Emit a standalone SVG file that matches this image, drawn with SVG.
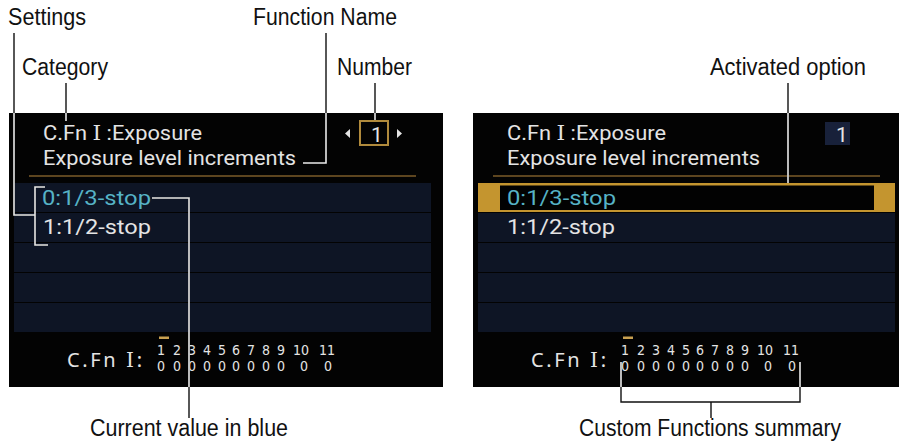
<svg xmlns="http://www.w3.org/2000/svg" xmlns:xlink="http://www.w3.org/1999/xlink" width="899" height="442" viewBox="0 0 899 442">
<style>
.lbl{font-family:"Liberation Sans","Arial",sans-serif;font-size:23px;fill:#111;}
.scr{fill:#030303;}
.row{fill:#0e1525;}
.hd{font-family:Roboto,"Noto Sans",sans-serif;font-size:21px;fill:#e4e4e4;}
.blue{fill:#56b3c6;}
.rn{font-family:"DejaVu Serif","Liberation Serif",serif;}
.ft{font-family:"Noto Sans","Open Sans",sans-serif;font-size:20px;fill:#e4e4e4;}
.dig{font-family:"DejaVu Sans","Liberation Sans",sans-serif;font-stretch:condensed;font-size:14px;fill:#e4e4e4;text-anchor:middle;}
.rule{stroke:#7c5c2a;stroke-width:1.5;}
.ln{fill:none;stroke:#111;stroke-width:1.4;}
.lnw{fill:none;stroke:#e8e8e8;stroke-width:1.6;}
.gold{fill:#c4952f;}
</style>
<defs>
<clipPath id="screens">
<rect x="9" y="113" width="434" height="274"/>
<rect x="473" y="113" width="426" height="274"/>
</clipPath>
<path id="c-settings" d="M14,33 V215 H35 M45,187 H35 V245 H48"/>
<path id="c-category" d="M66,83 V121"/>
<path id="c-fname" d="M326,33 V163 H303"/>
<path id="c-number" d="M375,83 V120"/>
<path id="c-current" d="M152,198 H189 V418"/>
<path id="c-activated" d="M788,83 V183"/>
<path id="c-summary" d="M621,362 V402 H800 V362 M711,402 V418"/>
</defs>

<g id="screen-left">
<rect class="scr" x="9" y="113" width="434" height="274"/>
<text class="hd" x="43" y="140" textLength="159" lengthAdjust="spacingAndGlyphs">C.Fn <tspan class="rn">I</tspan> :Exposure</text>
<text class="hd" x="43" y="165" textLength="253" lengthAdjust="spacingAndGlyphs">Exposure level increments</text>
<polygon points="350,129 345,133.5 350,138" fill="#e4e4e4"/>
<rect x="360" y="121" width="28" height="24" fill="none" stroke="#b08a3c" stroke-width="2"/>
<text class="hd" x="377" y="142" text-anchor="middle">1</text>
<polygon points="397,129 402,133.5 397,138" fill="#e4e4e4"/>
<line class="rule" x1="29" y1="176" x2="416" y2="176"/>
<rect class="row" x="14" y="183" width="417" height="29"/>
<rect class="row" x="14" y="213" width="417" height="29"/>
<rect class="row" x="14" y="243" width="417" height="29"/>
<rect class="row" x="14" y="273" width="417" height="29"/>
<rect class="row" x="14" y="303" width="417" height="29"/>
<text class="hd blue" x="42" y="205" textLength="109" lengthAdjust="spacingAndGlyphs">0:1/3-stop</text>
<text class="hd" x="43" y="234" textLength="108" lengthAdjust="spacingAndGlyphs">1:1/2-stop</text>
<rect x="159" y="336.5" width="10" height="2.5" fill="#c8a050"/>
<text class="ft" x="67" y="367" textLength="75" lengthAdjust="spacing">C.Fn <tspan class="rn">I</tspan>:</text>
<text class="dig" y="355"><tspan x="163">1</tspan> <tspan x="179">2</tspan> <tspan x="194">3</tspan> <tspan x="209">4</tspan> <tspan x="224">5</tspan> <tspan x="238">6</tspan> <tspan x="253">7</tspan> <tspan x="268">8</tspan> <tspan x="283">9</tspan> <tspan x="303">10</tspan> <tspan x="327">11</tspan></text>
<text class="dig" y="371"><tspan x="163">0</tspan> <tspan x="179">0</tspan> <tspan x="194">0</tspan> <tspan x="209">0</tspan> <tspan x="224">0</tspan> <tspan x="238">0</tspan> <tspan x="253">0</tspan> <tspan x="268">0</tspan> <tspan x="283">0</tspan> <tspan x="306">0</tspan> <tspan x="328">0</tspan></text>
</g>

<g id="screen-right">
<rect class="scr" x="473" y="113" width="426" height="274"/>
<text class="hd" x="507" y="140" textLength="159" lengthAdjust="spacingAndGlyphs">C.Fn <tspan class="rn">I</tspan> :Exposure</text>
<text class="hd" x="507" y="165" textLength="253" lengthAdjust="spacingAndGlyphs">Exposure level increments</text>
<rect x="825" y="122" width="25" height="23" fill="#18213a"/>
<text class="hd" x="842" y="142" text-anchor="middle">1</text>
<line class="rule" x1="493" y1="176" x2="880" y2="176"/>
<rect class="gold" x="478" y="183" width="417" height="29"/>
<rect x="500" y="185.5" width="374" height="24.5" fill="#020202"/>
<rect class="row" x="478" y="213" width="417" height="29"/>
<rect class="row" x="478" y="243" width="417" height="29"/>
<rect class="row" x="478" y="273" width="417" height="29"/>
<rect class="row" x="478" y="303" width="417" height="29"/>
<text class="hd blue" x="507" y="205" textLength="109" lengthAdjust="spacingAndGlyphs">0:1/3-stop</text>
<text class="hd" x="507" y="234" textLength="108" lengthAdjust="spacingAndGlyphs">1:1/2-stop</text>
<rect x="623" y="336.5" width="10" height="2.5" fill="#c8a050"/>
<text class="ft" x="531" y="367" textLength="75" lengthAdjust="spacing">C.Fn <tspan class="rn">I</tspan>:</text>
<text class="dig" y="355"><tspan x="627">1</tspan> <tspan x="643">2</tspan> <tspan x="658">3</tspan> <tspan x="673">4</tspan> <tspan x="688">5</tspan> <tspan x="702">6</tspan> <tspan x="717">7</tspan> <tspan x="732">8</tspan> <tspan x="747">9</tspan> <tspan x="767">10</tspan> <tspan x="791">11</tspan></text>
<text class="dig" y="371"><tspan x="627">0</tspan> <tspan x="643">0</tspan> <tspan x="658">0</tspan> <tspan x="673">0</tspan> <tspan x="688">0</tspan> <tspan x="702">0</tspan> <tspan x="717">0</tspan> <tspan x="732">0</tspan> <tspan x="747">0</tspan> <tspan x="770">0</tspan> <tspan x="792">0</tspan></text>
</g>

<g id="connectors">
<use xlink:href="#c-settings" class="ln"/>
<use xlink:href="#c-category" class="ln"/>
<use xlink:href="#c-fname" class="ln"/>
<use xlink:href="#c-number" class="ln"/>
<use xlink:href="#c-current" class="ln"/>
<use xlink:href="#c-activated" class="ln"/>
<use xlink:href="#c-summary" class="ln"/>
<g clip-path="url(#screens)">
<use xlink:href="#c-settings" class="lnw"/>
<use xlink:href="#c-category" class="lnw"/>
<use xlink:href="#c-fname" class="lnw"/>
<use xlink:href="#c-number" class="lnw"/>
<use xlink:href="#c-current" class="lnw"/>
<use xlink:href="#c-activated" class="lnw"/>
<use xlink:href="#c-summary" class="lnw"/>
</g>
</g>

<g id="label-settings"><text class="lbl" x="8" y="25" textLength="78" lengthAdjust="spacingAndGlyphs">Settings</text></g>
<g id="label-function-name"><text class="lbl" x="253" y="25" textLength="144" lengthAdjust="spacingAndGlyphs">Function Name</text></g>
<g id="label-category"><text class="lbl" x="22" y="75" textLength="86" lengthAdjust="spacingAndGlyphs">Category</text></g>
<g id="label-number"><text class="lbl" x="337" y="75" textLength="75" lengthAdjust="spacingAndGlyphs">Number</text></g>
<g id="label-activated"><text class="lbl" x="710" y="75" textLength="156" lengthAdjust="spacingAndGlyphs">Activated option</text></g>
<g id="label-current"><text class="lbl" x="90" y="436" textLength="198" lengthAdjust="spacingAndGlyphs">Current value in blue</text></g>
<g id="label-summary"><text class="lbl" x="579" y="436" textLength="262" lengthAdjust="spacingAndGlyphs">Custom Functions summary</text></g>
</svg>
